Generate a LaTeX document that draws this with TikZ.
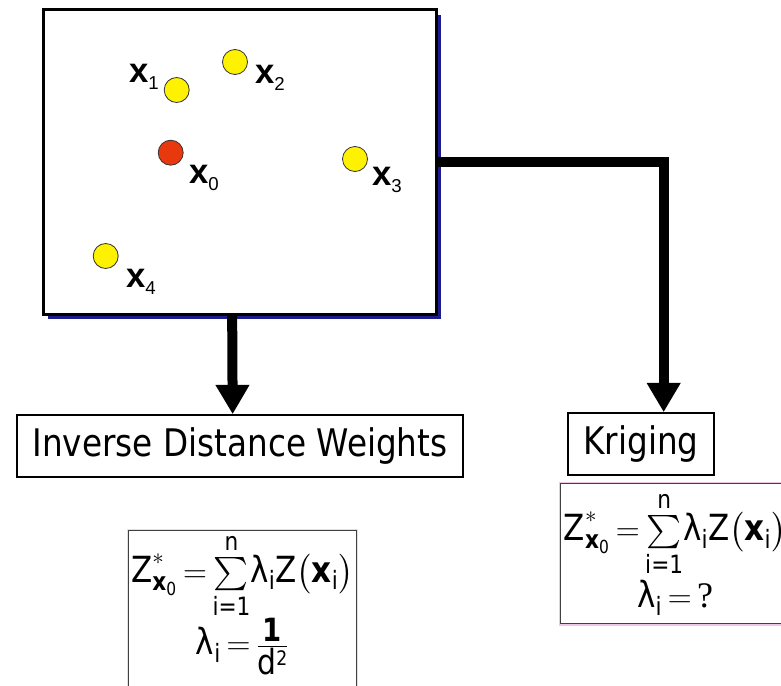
\documentclass[tikz,border=0pt]{standalone}
\usepackage{amsmath}
\usepackage{fontspec}
\setmainfont{DejaVu Sans}[FakeStretch=0.86]
\newfontfamily\labfont{Liberation Sans}
\newfontfamily\serifq{Liberation Serif}
\usetikzlibrary{arrows.meta,positioning,shadows}
\definecolor{Pin}{HTML}{FFF200}
\definecolor{Target}{HTML}{E8380D}
\definecolor{Navy}{HTML}{1C1C8E}
\definecolor{HaloGreen}{HTML}{DCEBB8}
\definecolor{HaloPink}{HTML}{EDC6EA}
\newcommand{\ptlab}[1]{\textbf{x}\raisebox{-5pt}{\fontsize{14}{14}\selectfont #1}}
\newcommand{\estline}{$\text{Z}^{*}_{\textbf{x}_{\text{0}}}\,{=}\,\mathord{\sum\limits_{\text{i=1}}^{\text{n}}}\text{λ}_{\text{i}}\text{Z}\bigl(\textbf{x}_{\text{i}}\bigr)$}
\tikzset{
  sitebox/.style={draw=black,line width=2.25pt,fill=white,minimum width=294.75pt,minimum height=228pt,
    drop shadow={shadow xshift=3.5pt,shadow yshift=-3.5pt,fill=Navy,opacity=1}},
  pin/.style={circle,draw=black!80,line width=0.6pt,fill=Pin,minimum size=18.75pt,inner sep=0pt},
  target/.style={pin,fill=Target},
  pinlabel/.style={font=\labfont\fontsize{26}{26}\selectfont,inner sep=0pt},
  methodbox/.style={draw=black,line width=1.2pt,fill=white,minimum height=46.5pt,font=\fontsize{28.5}{34}\selectfont},
  formulabox/.style={draw=black!75,line width=0.8pt,fill=white,align=center,font=\fontsize{27}{32}\selectfont,inner sep=2pt},
  flow/.style={-{Triangle[width=24pt,length=22pt]},line width=7.5pt,draw=black}
}
\begin{document}
\begin{tikzpicture}[x=0.75pt,y=-0.75pt]
  \useasboundingbox (0,0) rectangle (781,685);
  \clip (0,0) rectangle (781,685);
  % sample area
  \node[sitebox] (site) at (239.5,162) {};
  \node[pin] (p1) at (176.7,90) {};
  \node[pin] (p2) at (235,62) {};
  \node[target] (p0) at (170.7,152.7) {};
  \node[pin] (p3) at (355,159) {};
  \node[pin] (p4) at (105.7,256) {};
  \node[pinlabel] (l1) at (144,77) {\ptlab{1}};
  \node[pinlabel] (l2) at (270,78) {\ptlab{2}};
  \node[pinlabel] (l0) at (204,178) {\ptlab{0}};
  \node[pinlabel] (l3) at (387,180) {\ptlab{3}};
  \node[pinlabel] (l4) at (141,282) {\ptlab{4}};
  % methods
  \node[methodbox,minimum width=334.5pt] (idw) at (240,446) {Inverse Distance Weights};
  \node[methodbox,minimum width=109.5pt] (krig) at (641,444) {Kriging};
  \node[formulabox,anchor=north west,minimum width=168pt,
    preaction={draw=HaloGreen,line width=3pt}] (idwf) at (128,530)
    {\estline\\[-1pt] $\text{λ}_{\text{i}}\,{=}\,\frac{\text{\fontsize{24}{24}\selectfont\bfseries 1}}{\text{\fontsize{26}{26}\selectfont d\raisebox{7pt}{\fontsize{15}{15}\selectfont 2}}}$\\[6pt]\mbox{}};
  \node[formulabox,anchor=north west,minimum width=172pt,minimum height=105pt,
    preaction={draw=HaloPink,line width=3pt}] (krigf) at (560,483)
    {\estline\\[2pt] $\text{λ}_{\text{i}}\,{=}\,\text{\serifq ?}$};
  % connectors
  \draw[flow] ([xshift=-5.5pt]site.south) -- ([xshift=-5.5pt]idw.north);
  \draw[flow] (site.east) -| ([xshift=17pt]krig.north);
\end{tikzpicture}
\end{document}
